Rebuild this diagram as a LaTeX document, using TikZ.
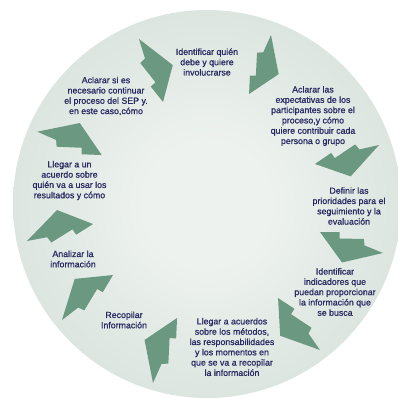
\documentclass[tikz,border=0pt]{standalone}
\usepackage{fontspec}
\setmainfont{Liberation Sans}[RawFeature={embolden=1.0}]
\definecolor{arrowgreen}{HTML}{6B9880}
\definecolor{textnavy}{HTML}{2A2B62}
\definecolor{discin}{HTML}{EDF2EF}
\definecolor{discout}{HTML}{DCE5DF}
\pgfdeclareradialshading{discshade}{\pgfpoint{0bp}{0bp}}{color(0bp)=(discin); color(8bp)=(discin); color(25bp)=(discout); color(50bp)=(discout)}
\tikzset{
  bolt/.pic={\fill[arrowgreen] (0,0) -- (0.54,0.33) -- (1,0) -- (0.72,-0.09) -- (0.69,0.0) -- (0.34,-0.11) -- (0.30,-0.02) -- cycle;},
  steptext/.style={align=center, text=textnavy, font=\fontsize{8.8}{10.3}\selectfont, inner sep=0pt},
}
\begin{document}
\begin{tikzpicture}[x=1pt,y=1pt]
\useasboundingbox (0,0) rectangle (398,-398);
\clip (0,0) rectangle (398,-398);
\fill[white] (0,0) rectangle (398,-398);
\shade[shading=discshade] (207,-204) circle[radius=194pt];
% arrows (outer tip, rotation towards inner tip, length)
\pic[rotate=-69.1, scale=67.4] at (139,-39) {bolt};
\pic[rotate=-110.4, scale=63] at (271,-35) {bolt};
\pic[rotate=-163.5, scale=66.8] at (379,-145) {bolt};
\pic[rotate=161.6, scale=66.4] at (383,-253) {bolt};
\pic[rotate=128.9, scale=66.8] at (320,-350) {bolt};
\pic[rotate=69.7, scale=69.3] at (153,-383) {bolt};
\pic[rotate=41.4, scale=68] at (62,-320) {bolt};
\pic[rotate=14.4, scale=68.2] at (27,-241) {bolt};
\pic[rotate=-19.9, scale=68.5] at (37.3,-131.7) {bolt};
% texts
\node[steptext] (t1) at (207,-62) {Identificar quién\\debe y quiere\\involucrarse};
\node[steptext] (t2) at (313,-116) {Aclarar las\\expectativas de los\\participantes sobre el\\proceso,y cómo\\quiere contribuir cada\\persona o grupo};
\node[steptext] (t3) at (349,-206) {Definir las\\prioridades para el\\seguimiento y la\\evaluación};
\node[steptext] (t4) at (335,-292) {Identificar\\indicadores que\\puedan proporcionar\\la información que\\se busca};
\node[steptext] (t5) at (232,-347) {Llegar a acuerdos\\sobre los métodos,\\las responsabilidades\\y los momentos en\\que se va a recopilar\\la información};
\node[steptext] (t6) at (124,-320) {Recopilar\\Información};
\node[steptext] (t7) at (73,-259) {Analizar la\\información};
\node[steptext] (t8) at (69.5,-180.5) {Llegar a un\\acuerdo sobre\\quién va a usar los\\resultados y cómo};
\node[steptext] (t9) at (106,-96) {Aclarar si es\\necesario continuar\\el proceso del SEP y.\\en este caso,cómo};
\end{tikzpicture}
\end{document}
